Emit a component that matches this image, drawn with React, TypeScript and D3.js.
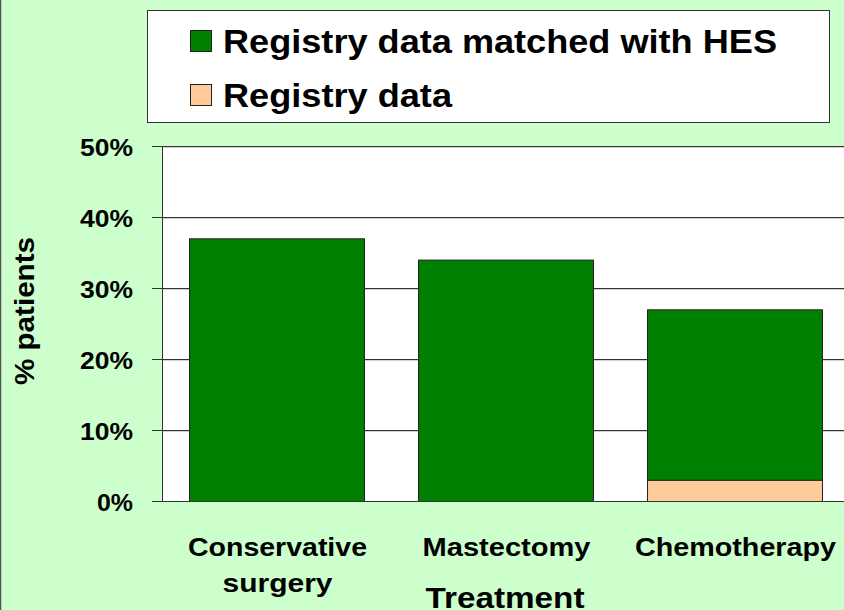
import React from "react";
import * as d3 from "d3";

const categories = ["Conservative surgery", "Mastectomy", "Chemotherapy"];
const categoryLines = [["Conservative", "surgery"], ["Mastectomy"], ["Chemotherapy"]];
const registryData = [0, 0, 3];
const matchedHES = [37, 34, 24];
const yTicks = [0, 10, 20, 30, 40, 50];
const seriesNames = ["Registry data matched with HES", "Registry data"];
const seriesColors = ["#008000", "#FFCC99"];

const W = 844;
const H = 610;
const FONT = "'Liberation Sans', Arial, sans-serif";

export default function App() {
  const plotL = 162, plotR = 849, plotT = 146, plotB = 501;
  const x = d3.scaleBand<string>().domain(categories).range([plotL, plotR]).paddingInner(0.236).paddingOuter(0.118);
  const y = d3.scaleLinear().domain([0, 50]).range([plotB, plotT]);

  const stacked = d3.stack<any>().keys(["reg", "hes"])(
    categories.map((c, i) => ({ cat: c, reg: registryData[i], hes: matchedHES[i] }))
  );
  const colorFor: Record<string, string> = { reg: seriesColors[1], hes: seriesColors[0] };

  const catWidths = [[179, 110], [168], [201]];

  return (
    <svg width={W} height={H} style={{ position: "absolute", left: 0, top: 0, display: "block" }} fontFamily={FONT}>
      <rect x={0} y={0} width={W} height={H} fill="#CCFFCC" />
      <line x1={0.5} y1={0} x2={0.5} y2={H} stroke="#555" strokeWidth={1.5} />

      {/* Legend */}
      <rect x={147.5} y={10.5} width={682} height={112} fill="#fff" stroke="#333" strokeWidth={1} />
      {seriesNames.map((name, i) => (
        <g key={name}>
          <rect x={190.5} y={30.5 + i * 54} width={21} height={21} fill={seriesColors[i]} stroke="#222" strokeWidth={1} />
          <text x={223} y={53 + i * 54} fontSize={34} fontWeight="bold" fill="#000"
            textLength={554} lengthAdjust="spacingAndGlyphs" {...(i === 1 ? { textLength: 229 } : {})}>{name}</text>
        </g>
      ))}

      {/* Plot area */}
      <rect x={plotL} y={plotT} width={plotR - plotL} height={plotB - plotT} fill="#fff" />
      {yTicks.map((t) => (
        <g key={t}>
          {t > 0 && <line x1={plotL} x2={plotR} y1={y(t) + 1.5} y2={y(t) + 1.5} stroke="#d0d0d0" strokeWidth={1} />}
          <line x1={plotL - 10} x2={plotR} y1={y(t) + 0.5} y2={y(t) + 0.5} stroke="#333" strokeWidth={1} />
          <text x={133} y={y(t) + 10} textAnchor="end" fontSize={23} fontWeight="bold" fill="#000"
            textLength={t === 0 ? 36 : 53} lengthAdjust="spacingAndGlyphs">{t + "%"}</text>
        </g>
      ))}

      {/* Bars */}
      {stacked.map((s) => (
        <g key={s.key}>
          {s.map((d, i) => {
            const h = y(d[0]) - y(d[1]);
            if (h <= 0) return null;
            return (
              <rect key={i} x={(x(categories[i]) as number) + 0.5} y={y(d[1]) + 0.5}
                width={x.bandwidth()} height={h} fill={colorFor[s.key]} stroke="#222" strokeWidth={1} />
            );
          })}
        </g>
      ))}

      {/* Axes */}
      <line x1={plotL + 0.5} x2={plotL + 0.5} y1={plotT} y2={plotB + 1} stroke="#333" strokeWidth={1} />
      <line x1={plotL} x2={plotR} y1={plotB + 0.5} y2={plotB + 0.5} stroke="#333" strokeWidth={1} />

      {/* Category labels */}
      {categoryLines.map((lines, i) => {
        const cx = (x(categories[i]) as number) + x.bandwidth() / 2 + 1;
        return (
          <g key={i}>
            {lines.map((ln, j) => (
              <text key={j} x={cx} y={556 + j * 36} textAnchor="middle" fontSize={26} fontWeight="bold" fill="#000"
                textLength={catWidths[i][j]} lengthAdjust="spacingAndGlyphs">{ln}</text>
            ))}
          </g>
        );
      })}

      {/* Axis titles */}
      <text x={505} y={608} textAnchor="middle" fontSize={29} fontWeight="bold" fill="#000"
        textLength={159} lengthAdjust="spacingAndGlyphs">Treatment</text>
      <text transform={`translate(34, 311) rotate(-90)`} textAnchor="middle" fontSize={27} fontWeight="bold" fill="#000"
        textLength={148} lengthAdjust="spacingAndGlyphs">% patients</text>
    </svg>
  );
}
